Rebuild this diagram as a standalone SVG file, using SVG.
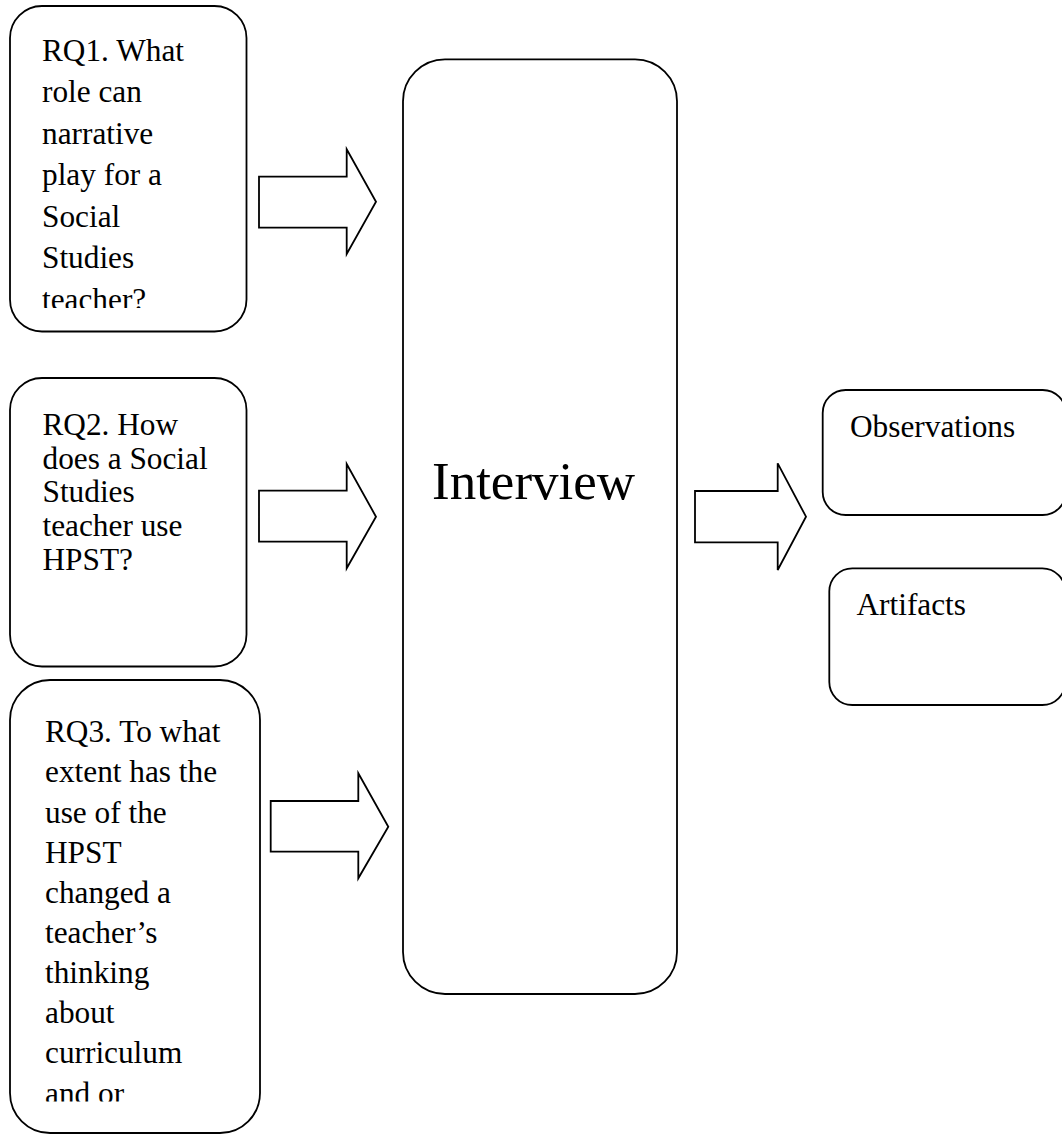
<svg xmlns="http://www.w3.org/2000/svg" width="1062" height="1135" viewBox="0 0 1062 1135">
  <style>
    .box { fill: #ffffff; stroke: #000000; stroke-width: 1.8; }
    .arrow { fill: #ffffff; stroke: #000000; stroke-width: 1.8; stroke-linejoin: miter; }
    .label { font-family: "Liberation Serif", "Times New Roman", serif; font-size: 31.3px; fill: #000000; }
    .big { font-family: "Liberation Serif", "Times New Roman", serif; font-size: 53px; fill: #000000; }
  </style>
  <defs>
    <clipPath id="clip-rq1"><rect x="10" y="6" width="237" height="302"/></clipPath>
    <clipPath id="clip-rq3"><rect x="10" y="680" width="250" height="421.5"/></clipPath>
  </defs>
  <rect width="1062" height="1135" fill="#ffffff"/>

  <!-- block arrows between stages -->
  <g id="connectors">
    <polygon class="arrow" points="259,176.7 346.7,176.7 346.7,149.3 376,201.7 346.7,254 346.7,227.7 259,227.7"/>
    <polygon class="arrow" points="259,490.7 346.7,490.7 346.7,464 376,516.7 346.7,568.3 346.7,541.7 259,541.7"/>
    <polygon class="arrow" points="270.7,801 358.3,801 358.3,773.3 388.3,826.7 358.3,878.3 358.3,851.7 270.7,851.7"/>
    <polygon class="arrow" points="695,491 777.7,491 777.7,463.3 806,516.7 777.7,570 777.7,542.3 695,542.3"/>
  </g>

  <g id="rq1">
    <rect class="box" x="10" y="6" width="236.5" height="325.5" rx="32" ry="32"/>
    <g clip-path="url(#clip-rq1)">
      <text class="label" x="42" y="60.5">RQ1. What</text>
      <text class="label" x="42" y="102">role can</text>
      <text class="label" x="42" y="143.5">narrative</text>
      <text class="label" x="42" y="185">play for a</text>
      <text class="label" x="42" y="226.5">Social</text>
      <text class="label" x="42" y="268">Studies</text>
      <text class="label" x="42" y="309.5">teacher?</text>
    </g>
  </g>

  <g id="rq2">
    <rect class="box" x="10" y="378" width="236.5" height="288.5" rx="32" ry="32"/>
    <text class="label" x="42.5" y="435">RQ2. How</text>
    <text class="label" x="42.5" y="468.5">does a Social</text>
    <text class="label" x="42.5" y="502">Studies</text>
    <text class="label" x="42.5" y="536">teacher use</text>
    <text class="label" x="42.5" y="570">HPST?</text>
  </g>

  <g id="rq3">
    <rect class="box" x="10" y="680" width="250" height="453" rx="40" ry="40"/>
    <g clip-path="url(#clip-rq3)">
      <text class="label" x="45" y="742">RQ3. To what</text>
      <text class="label" x="45" y="782">extent has the</text>
      <text class="label" x="45" y="822.5">use of the</text>
      <text class="label" x="45" y="862.5">HPST</text>
      <text class="label" x="45" y="902.5">changed a</text>
      <text class="label" x="45" y="943">teacher’s</text>
      <text class="label" x="45" y="983">thinking</text>
      <text class="label" x="45" y="1023">about</text>
      <text class="label" x="45" y="1063">curriculum</text>
      <text class="label" x="45" y="1103.5">and or</text>
    </g>
  </g>

  <g id="interview">
    <rect class="box" x="403" y="59.3" width="274" height="934.7" rx="42" ry="42"/>
    <text class="big" x="432" y="499">Interview</text>
  </g>

  <g id="observations">
    <rect class="box" x="822.7" y="390" width="243" height="125" rx="23" ry="23"/>
    <text class="label" x="850" y="437">Observations</text>
  </g>

  <g id="artifacts">
    <rect class="box" x="829.3" y="568.3" width="236" height="136.7" rx="23" ry="23"/>
    <text class="label" x="856.5" y="615">Artifacts</text>
  </g>
</svg>
